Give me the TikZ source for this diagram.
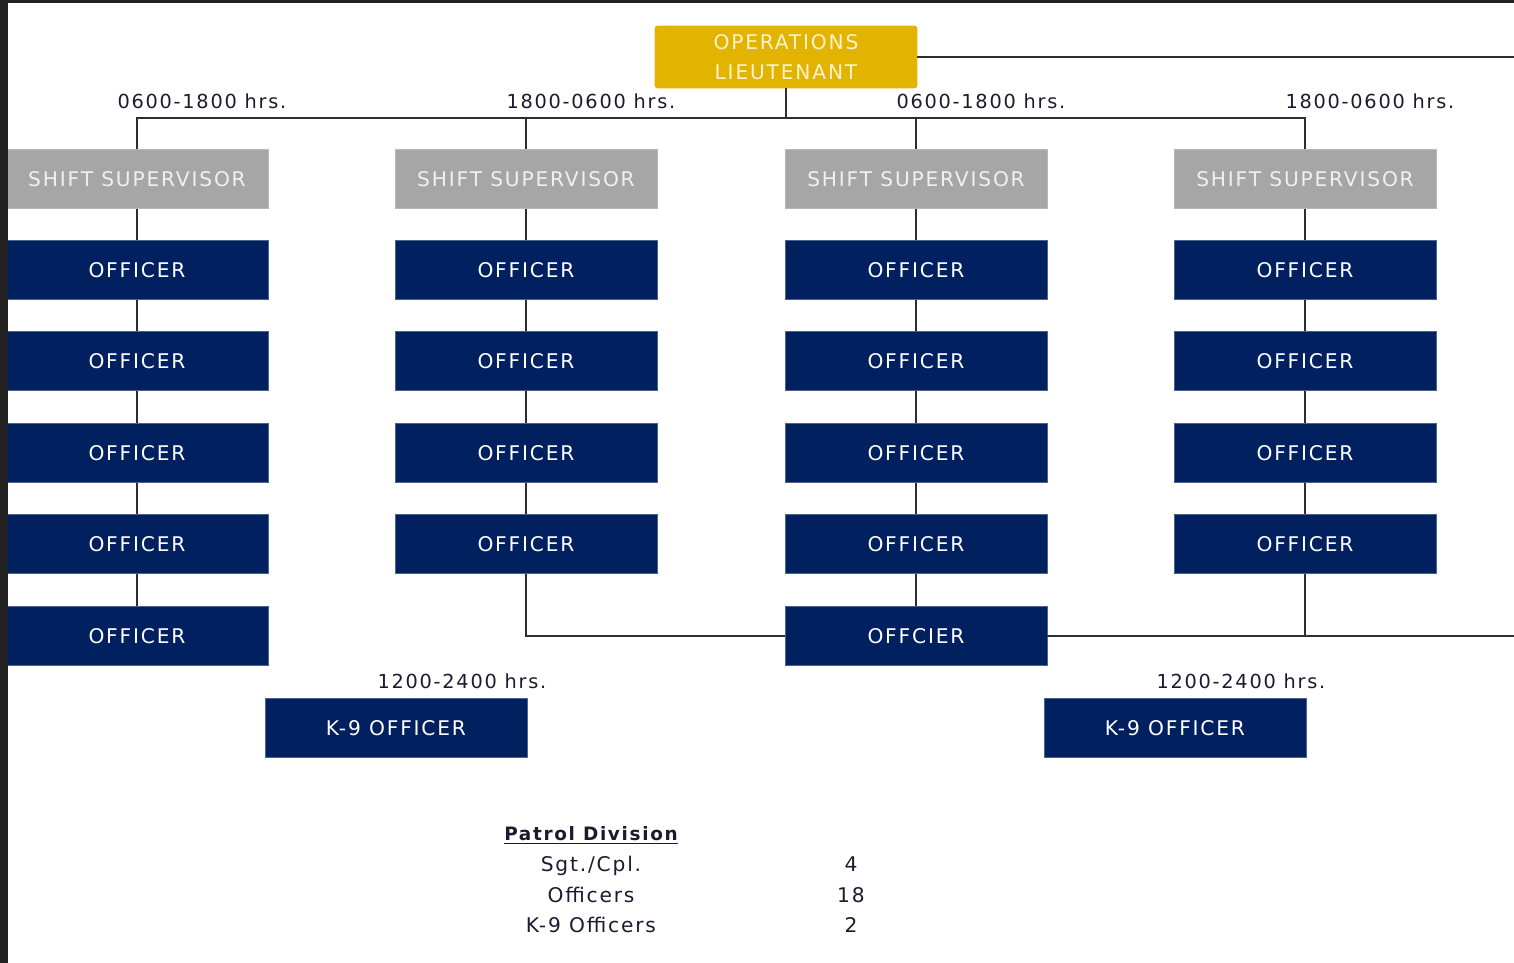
\documentclass[tikz,border=0pt]{standalone}
\usepackage{fontspec}
\setmainfont{DejaVu Sans}[LetterSpace=9]
\usepackage{tikz}
\definecolor{navyblue}{HTML}{002060}
\definecolor{supgray}{HTML}{A6A6A6}
\definecolor{ltgold}{HTML}{E2B400}
\definecolor{ltcream}{HTML}{FFF2CC}
\definecolor{hrsblack}{HTML}{1C1A2E}
\definecolor{linegray}{HTML}{2E2E2E}
\definecolor{framedark}{HTML}{222222}
\tikzset{
  officer/.style={fill=navyblue, draw=navyblue!70!white, line width=0.4pt, text=white,
    minimum width=5.24cm, minimum height=1.18cm, inner sep=0pt, font=\fontsize{11.5}{13}\selectfont},
  supbox/.style={officer, fill=supgray, draw=supgray!80!white, text=white!94!black},
  ltbox/.style={officer, fill=ltgold, draw=ltgold, rounded corners=1.5pt, minimum height=1.24cm,
    text=ltcream, align=center, font=\fontsize{11.5}{17}\selectfont},
  hrs/.style={text=hrsblack, inner sep=0pt, text height=10pt, text depth=2.5pt,
    font=\fontsize{11}{12}\selectfont},
  tally/.style={hrs, font=\fontsize{11.5}{13}\selectfont},
  link/.style={draw=linegray, line width=1.1pt}
}
\begin{document}
\begin{tikzpicture}[x=0.02cm,y=-0.02cm]
  \useasboundingbox (0,0) rectangle (1514,963);

  \node[ltbox] (lt) at (786,57) {OPERATIONS\\LIEUTENANT};

  \foreach \c/\x in {1/137,2/526,3/916,4/1305} {
    \node[supbox] (sup\c) at (\x,179) {SHIFT SUPERVISOR};
    \foreach \r/\y in {1/270,2/361,3/453,4/544}
      \node[officer] (o\c-\r) at (\x,\y) {OFFICER};
  }
  \node[officer] (o1-5) at (137,636) {OFFICER};
  \node[officer] (o3-5) at (916,636) {OFFCIER};

  \node[officer] (k9a) at (396,728) {K-9 OFFICER};
  \node[officer] (k9b) at (1175,728) {K-9 OFFICER};

  \node[hrs] (h1) at (202,102) {0600-1800 hrs.};
  \node[hrs] (h2) at (591,102) {1800-0600 hrs.};
  \node[hrs] (h3) at (981,102) {0600-1800 hrs.};
  \node[hrs] (h4) at (1370,102) {1800-0600 hrs.};
  \node[hrs] (h5) at (462,682) {1200-2400 hrs.};
  \node[hrs] (h6) at (1241,682) {1200-2400 hrs.};

  \coordinate (bus) at (786,118);
  \coordinate (edgeA) at (1514,57);
  \coordinate (edgeB) at (1514,636);
  \draw[link] (lt.south) -- (bus);
  \draw[link] (sup1.north) |- (bus) -| (sup4.north);
  \draw[link] (sup2.north) -- (sup2.north |- bus);
  \draw[link] (sup3.north) -- (sup3.north |- bus);
  \draw[link] (lt.east) -- (edgeA);

  \foreach \c in {1,...,4} {
    \draw[link] (sup\c) -- (o\c-1);
    \foreach \r [count=\s from 2] in {1,2,3}
      \draw[link] (o\c-\r) -- (o\c-\s);
  }
  \draw[link] (o1-4) -- (o1-5);
  \draw[link] (o3-4) -- (o3-5);
  \draw[link] (o2-4.south) |- (o3-5.west);
  \draw[link] (o4-4.south) -- (o4-4.south |- o3-5.east);
  \draw[link] (o3-5.east) -- (edgeB);

  \node[hrs, font=\bfseries\fontsize{10.5}{12}\selectfont] (pd) at (591,834) {\underline{Patrol Division}};
  \node[tally] (t1) at (591,865) {Sgt./Cpl.};
  \node[tally] (t2) at (591,896) {Officers};
  \node[tally] (t3) at (591,926) {K-9 Officers};
  \node[tally] (n1) at (851,865) {4};
  \node[tally] (n2) at (851,896) {18};
  \node[tally] (n3) at (851,926) {2};

  \fill[framedark] (0,0) rectangle (8,963);
  \fill[framedark] (0,0) rectangle (1514,3);
\end{tikzpicture}
\end{document}
